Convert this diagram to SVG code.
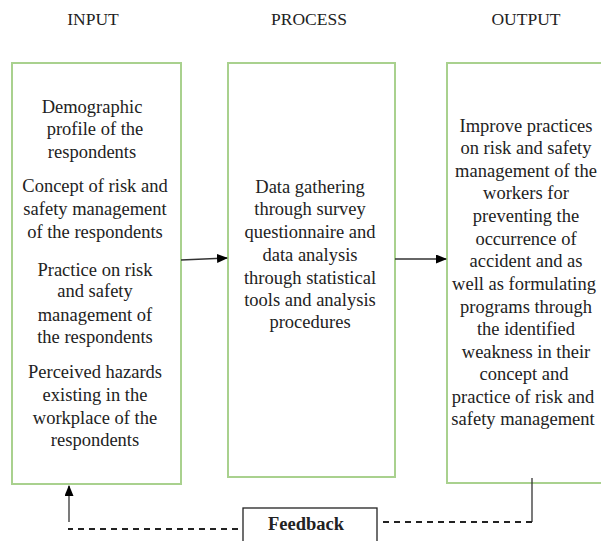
<svg xmlns="http://www.w3.org/2000/svg" width="601" height="541" viewBox="0 0 601 541">
<style>
.box{fill:#fff;stroke:#a9d18e;stroke-width:2}
text{font-family:'Liberation Serif','DejaVu Serif',serif}
.t{font-size:18.5px;fill:#222;text-anchor:middle}
.h{font-size:17.5px;fill:#222;text-anchor:middle}
.c{stroke:#333;stroke-width:1.3;fill:none}
.d{stroke:#222;stroke-width:2;stroke-dasharray:6,5;fill:none}
</style>
<defs>
<marker id="ah" markerWidth="11" markerHeight="9" refX="10" refY="4.5" orient="auto" markerUnits="userSpaceOnUse">
<path d="M0,0 L11,4.5 L0,9 Z" fill="#000"/>
</marker>
</defs>
<rect width="601" height="541" fill="#fff"/>
<g id="headers">
<text class="h" x="93" y="25">INPUT</text>
<text class="h" x="309" y="25">PROCESS</text>
<text class="h" x="526" y="25">OUTPUT</text>
</g>
<g id="input">
<rect class="box" x="12" y="63" width="169" height="421"/>
<text class="t" x="92" y="113">Demographic</text>
<text class="t" x="95" y="135">profile  of  the</text>
<text class="t" x="92" y="158">respondents</text>
<text class="t" x="95" y="192">Concept of risk and</text>
<text class="t" x="95" y="215">safety management</text>
<text class="t" x="95" y="238">of the respondents</text>
<text class="t" x="95" y="276">Practice on risk</text>
<text class="t" x="95" y="297">and safety</text>
<text class="t" x="95" y="321">management of</text>
<text class="t" x="95" y="343">the respondents</text>
<text class="t" x="95" y="378">Perceived hazards</text>
<text class="t" x="95" y="401">existing in the</text>
<text class="t" x="95" y="424">workplace of the</text>
<text class="t" x="95" y="446">respondents</text>
</g>
<g id="process">
<rect class="box" x="228" y="63" width="167" height="414"/>
<text class="t" x="310" y="193">Data gathering</text>
<text class="t" x="310" y="215">through survey</text>
<text class="t" x="310" y="238">questionnaire and</text>
<text class="t" x="310" y="261">data analysis</text>
<text class="t" x="310" y="284">through statistical</text>
<text class="t" x="310" y="306">tools and  analysis</text>
<text class="t" x="310" y="328">procedures</text>
</g>
<g id="output">
<rect class="box" x="447" y="63" width="170" height="420"/>
<text class="t" x="526" y="132">Improve practices</text>
<text class="t" x="526" y="154">on risk and safety</text>
<text class="t" x="526" y="177">management of the</text>
<text class="t" x="526" y="199">workers for</text>
<text class="t" x="526" y="222">preventing the</text>
<text class="t" x="526" y="245">occurrence of</text>
<text class="t" x="526" y="267">accident and as</text>
<text class="t" x="524" y="290">well as formulating</text>
<text class="t" x="526" y="313">programs through</text>
<text class="t" x="526" y="335">the identified</text>
<text class="t" x="526" y="358">weakness in their</text>
<text class="t" x="524" y="380">concept and</text>
<text class="t" x="523" y="403">practice of risk and</text>
<text class="t" x="523" y="425">safety management</text>
</g>
<g id="feedback">
<rect x="243" y="508" width="134" height="40" fill="#fff" stroke="#222" stroke-width="1.3"/>
<text class="t" x="306" y="530" font-weight="bold" fill="#111">Feedback</text>
</g>
<g id="connectors">
<line class="c" x1="181" y1="260" x2="227" y2="258" marker-end="url(#ah)"/>
<line class="c" x1="395" y1="259" x2="446" y2="259" marker-end="url(#ah)"/>
<line class="c" x1="532" y1="478" x2="532" y2="522"/>
<line class="d" x1="532" y1="522" x2="380" y2="522"/>
<line class="d" x1="238" y1="529" x2="68" y2="529"/>
<line class="c" x1="69" y1="522" x2="69" y2="486" marker-end="url(#ah)"/>
</g>
</svg>
